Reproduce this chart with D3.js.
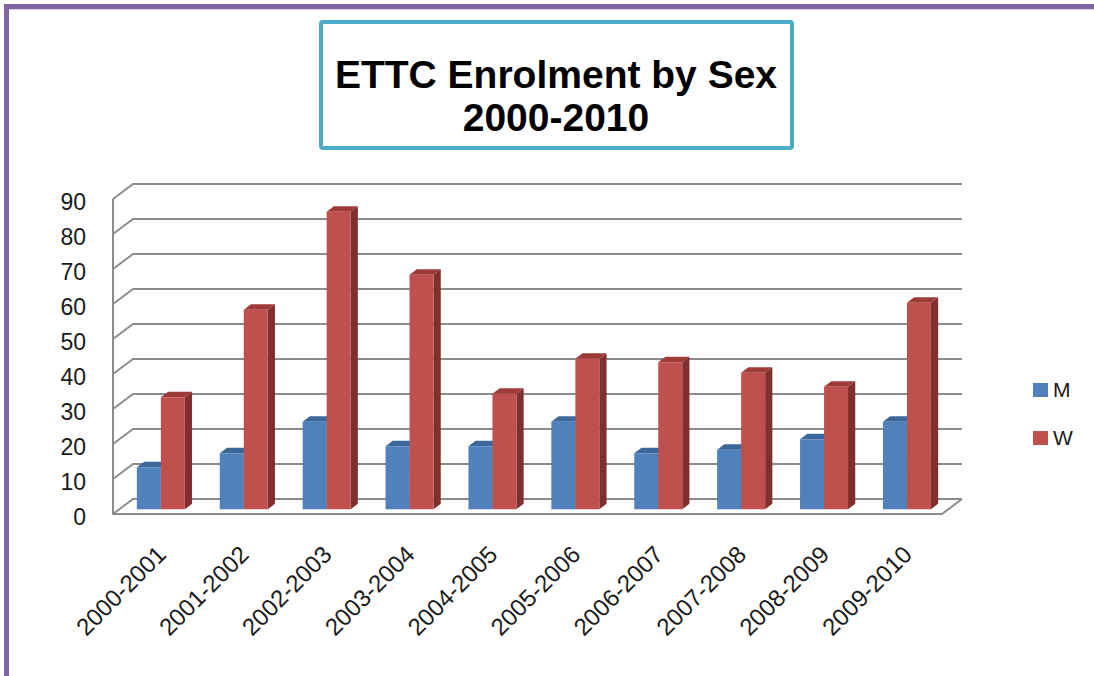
<html>

<head>
  <script src="https://d3js.org/d3.v7.min.js"></script>
  <style>
    body { margin: 0; background: #fff; }
    text { font-family: "Liberation Sans", Arial, sans-serif; fill: #1a1a1a; }
    .grid { fill: none; stroke: #8c8c8c; stroke-width: 2px; }
    .title { font-weight: bold; font-size: 39px; fill: #000; }
  </style>
</head>

<body>
  <svg id="chart" width="1094" height="676"></svg>

  <script>
    // data
    const categories = ["2000-2001", "2001-2002", "2002-2003", "2003-2004", "2004-2005",
      "2005-2006", "2006-2007", "2007-2008", "2008-2009", "2009-2010"];
    const menValues = [12, 16, 25, 18, 18, 25, 16, 17, 20, 25];
    const womenValues = [32, 57, 85, 67, 33, 43, 42, 39, 35, 59];
    const seriesNames = ["M", "W"];
    const titleLines = ["ETTC Enrolment by Sex", "2000-2010"];

    const svg = d3.select("#chart");

    // frame border
    svg.append("rect").attr("x", 4).attr("y", 4).attr("width", 1090).attr("height", 5).attr("fill", "#8064a2");
    svg.append("rect").attr("x", 4).attr("y", 4).attr("width", 5).attr("height", 672).attr("fill", "#8064a2");
    svg.append("rect").attr("x", 9).attr("y", 9).attr("width", 1085).attr("height", 1).attr("fill", "#ddd3ea");

    // title box
    svg.append("rect")
      .attr("x", 321).attr("y", 22).attr("width", 471).attr("height", 126).attr("rx", 2)
      .attr("fill", "#fff").attr("stroke", "#4bacc6").attr("stroke-width", 4);
    svg.selectAll("text.title").data(titleLines).join("text")
      .attr("class", "title")
      .attr("x", 556)
      .attr("y", (d, i) => 88 + i * 43)
      .attr("text-anchor", "middle")
      .text(d => d);

    // 3d geometry
    const depthX = 20, depthY = -15;
    const x = d3.scaleBand().domain(categories).range([113, 942]);
    const yFront = d3.scaleLinear().domain([0, 90]).range([514, 199]);
    const proj = (px, v, d) => [px + depthX * d, yFront(v) + depthY * d];
    const line = d3.line();

    const ticks = yFront.ticks(9);
    const x0 = x.range()[0], x1 = x.range()[1];

    const g = svg.append("g");

    // gridlines on back wall + left wall diagonals
    g.selectAll("path.grid").data(ticks).join("path")
      .attr("class", "grid")
      .attr("d", t => line([proj(x0, t, 0), proj(x0, t, 1), proj(x1, t, 1)]));

    // left wall front edge and floor
    g.append("path").attr("class", "grid")
      .attr("d", line([proj(x0, 90, 0), proj(x0, 0, 0), proj(x1, 0, 0), proj(x1, 0, 1)]));

    // bars
    const barW = 24;
    const dFront = 0.32, dBack = 0.68;
    const colors = {
      M: { front: "#4f81bd", top: "#3c679a", side: "#2f527c" },
      W: { front: "#c0504d", top: "#9e3b38", side: "#7f2f2d" }
    };

    const bars = [];
    categories.forEach((c, i) => {
      const cx = x(c) + x.bandwidth() / 2;
      bars.push({ s: "M", left: cx - barW, v: menValues[i] });
      bars.push({ s: "W", left: cx, v: womenValues[i] });
    });

    const barG = g.selectAll("g.bar").data(bars).join("g").attr("class", "bar");
    // side face
    barG.append("path")
      .attr("fill", d => colors[d.s].side)
      .attr("d", d => line([
        proj(d.left + barW, 0, dFront), proj(d.left + barW, 0, dBack),
        proj(d.left + barW, d.v, dBack), proj(d.left + barW, d.v, dFront)]) + "Z");
    // top face
    barG.append("path")
      .attr("fill", d => colors[d.s].top)
      .attr("d", d => line([
        proj(d.left, d.v, dFront), proj(d.left, d.v, dBack),
        proj(d.left + barW, d.v, dBack), proj(d.left + barW, d.v, dFront)]) + "Z");
    // front face
    barG.append("path")
      .attr("fill", d => colors[d.s].front)
      .attr("d", d => line([
        proj(d.left, 0, dFront), proj(d.left + barW, 0, dFront),
        proj(d.left + barW, d.v, dFront), proj(d.left, d.v, dFront)]) + "Z");

    // y axis labels
    const yAxis = svg.append("g")
      .attr("transform", `translate(${x0},3)`)
      .call(d3.axisLeft(yFront).tickValues(ticks).tickSize(0).tickPadding(27));
    yAxis.select(".domain").remove();
    yAxis.selectAll("text").style("font-size", "23px").attr("fill", "#1a1a1a")
      .style("font-family", "'Liberation Sans', Arial, sans-serif");

    // x axis labels
    const xAxis = svg.append("g")
      .attr("transform", `translate(${depthX * 0.5},530)`)
      .call(d3.axisBottom(x).tickSize(0).tickPadding(0));
    xAxis.select(".domain").remove();
    xAxis.selectAll("text")
      .style("font-size", "24px").attr("fill", "#1a1a1a")
      .style("font-family", "'Liberation Sans', Arial, sans-serif")
      .attr("text-anchor", "end")
      .attr("y", 0).attr("dy", "0.35em")
      .attr("transform", "translate(-3,20) rotate(-45)");

    // legend
    const legendColors = [colors.M.front, colors.W.front];
    const legend = svg.selectAll("g.legend").data(seriesNames).join("g")
      .attr("class", "legend")
      .attr("transform", (d, i) => `translate(1033,${383 + i * 48})`);
    legend.append("rect").attr("width", 15).attr("height", 14).attr("fill", (d, i) => legendColors[i]);
    legend.append("text").attr("x", 20).attr("y", 7).attr("dy", "0.35em")
      .style("font-size", "21px").text(d => d);
  </script>
</body>

</html>
